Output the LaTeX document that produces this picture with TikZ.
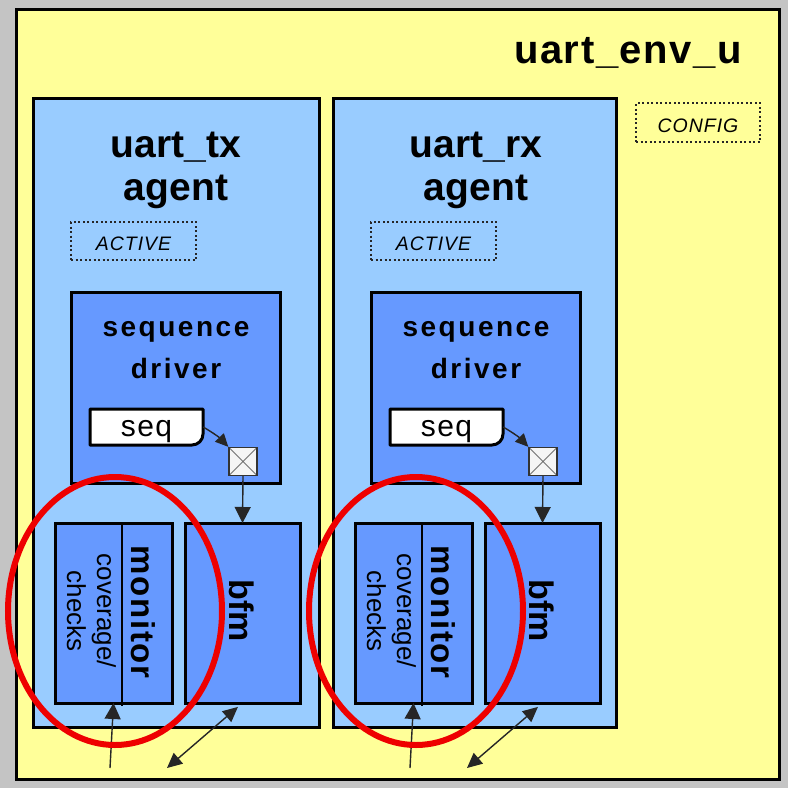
\documentclass[tikz,border=0pt]{standalone}
\usepackage{fontspec}
\setmainfont{Liberation Sans}
\newfontfamily\trackedfont[LetterSpace=9]{Liberation Sans}
\newfontfamily\envtracked[LetterSpace=4]{Liberation Sans}
\newfontfamily\lighttracked[LetterSpace=5]{Liberation Sans}
\usetikzlibrary{arrows.meta,shapes.geometric}

\definecolor{envyellow}{RGB}{255,255,153}
\definecolor{agentblue}{RGB}{153,204,255}
\definecolor{blockblue}{RGB}{102,153,255}
\definecolor{paneground}{RGB}{196,196,196}
\definecolor{ringred}{RGB}{238,0,0}

% font shortcuts
\newcommand\fEnv{\envtracked\fontsize{40}{44}\selectfont\bfseries}
\newcommand\fTitle{\fontsize{39}{44}\selectfont\bfseries}
\newcommand\fBlock{\trackedfont\fontsize{28}{32}\selectfont\bfseries}
\newcommand\fSeq{\lighttracked\fontsize{30}{34}\selectfont}
\newcommand\fMode{\lighttracked\fontsize{19.5}{21}\selectfont\itshape}
\newcommand\fMon{\lighttracked\fontsize{33}{36}\selectfont\bfseries}
\newcommand\fCov{\fontsize{26}{30}\selectfont}
\newcommand\fBfm{\fontsize{34}{38}\selectfont\bfseries}

\begin{document}
\begin{tikzpicture}[x=1pt,y=-1pt,
  frame/.style={draw=black, line width=3pt, inner sep=0pt, outer sep=0pt},
  envbox/.style={frame, fill=envyellow},
  agentbox/.style={frame, fill=agentblue},
  block/.style={frame, fill=blockblue},
  modebox/.style={draw=black!85, line width=2pt, dash pattern=on 2pt off 2.5pt,
                  inner sep=0pt, text height=19pt, text depth=0pt, font=\fMode},
  label/.style={anchor=base, inner sep=0pt},
  vlabel/.style={anchor=base, inner sep=0pt, rotate=-90},
  link/.style={draw=black!85, line width=1.4pt},
  tip/.style={-{Triangle[length=16pt,width=16pt]}},
  bitip/.style={{Triangle[length=15pt,width=14pt]}-{Triangle[length=15pt,width=14pt]}},
  smalltip/.style={-{Triangle[length=13pt,width=12pt]}},
  ring/.style={ellipse, draw=ringred, line width=6pt, inner sep=0pt}
]
\useasboundingbox (0,0) rectangle (788,788);
\fill[paneground] (0,0) rectangle (788,788);

% environment
\node[envbox, minimum width=763pt, minimum height=770pt] (env) at (397.5,394) {};
\node[label, font=\fEnv] (envname) at (628,63) {uart\_env\_u};
\node[modebox, minimum width=124pt, minimum height=39pt] (config) at (698,122.5) {CONFIG};

% the two agents
\foreach \p/\dx/\name/\aw/\ax in {tx/0/uart\_tx/286pt/176, rx/300/uart\_rx/283pt/474.5}{
  \node[agentbox, minimum width=\aw, minimum height=629pt] (\p-agent) at (\ax,412.5) {};
  \node[label, font=\fTitle] (\p-title) at ({\dx+176},157) {\name};
  \node[label, font=\fTitle] (\p-role) at ({\dx+176},200) {agent};
  \node[modebox, minimum width=125pt, minimum height=38pt] (\p-mode) at ({\dx+133.5},241) {ACTIVE};

  % sequence driver
  \node[block, minimum width=209pt, minimum height=191pt] (\p-sqr) at ({\dx+175.5},387.5) {};
  \node[label, font=\fBlock] (\p-sqrA) at ({\dx+176},336) {sequence};
  \node[label, font=\fBlock] (\p-sqrB) at ({\dx+176},378) {driver};

  % sequence page with a curled corner
  \filldraw[fill=white, draw=black, line width=3pt, line join=round]
    ({\dx+90},409) -- ({\dx+203},409) -- ({\dx+203},434)
    to[out=-90,in=0] ({\dx+192},445) -- ({\dx+90},445) -- cycle;
  \node[inner sep=0pt, minimum width=113pt, minimum height=36pt,
        text height=19pt, text depth=0pt, font=\fSeq] (\p-seq) at ({\dx+146.5},427) {seq};

  % port
  \node[draw=black!80, line width=1.3pt, fill=black!4, minimum size=28pt, inner sep=0pt,
        path picture={\draw[black!55, line width=0.9pt]
          (path picture bounding box.north west) -- (path picture bounding box.south east)
          (path picture bounding box.north east) -- (path picture bounding box.south west);}]
        (\p-xbox) at ({\dx+243},461.5) {};

  % monitor and bfm
  \node[block, minimum width=117pt, minimum height=180pt] (\p-mon) at ({\dx+113.5},613) {};
  \draw[line width=1.5pt] ({\dx+122},523) -- ({\dx+122},706);
  \node[vlabel, font=\fMon] (\p-monA) at ({\dx+131},612) {monitor};
  \node[vlabel, font=\fCov] (\p-monB) at ({\dx+97},611) {coverage/};
  \node[vlabel, font=\fCov] (\p-monC) at ({\dx+67},611) {checks};

  \node[block, minimum width=115pt, minimum height=180pt] (\p-bfm) at ({\dx+242.5},613) {};
  \node[vlabel, font=\fBfm] (\p-bfmA) at ({\dx+229},611) {bfm};

  % connectors
  \draw[link, smalltip] (\p-seq.east) to[bend left=8] (\p-xbox.north west);
  \draw[link, tip] (\p-xbox.south) -- (\p-bfm.north);
  \coordinate (\p-monIn) at ({\dx+110},768);
  \draw[link, tip] (\p-monIn) -- (\p-mon.south);
  \coordinate (\p-bus) at ({\dx+167},768);
  \draw[link, bitip, shorten >=6pt] (\p-bus) -- (\p-bfm.south);
}

% highlight rings
\node[ring, minimum width=214pt, minimum height=268pt] (tx-ring) at (115,611) {};
\node[ring, minimum width=214pt, minimum height=268pt] (rx-ring) at (416,611) {};
\end{tikzpicture}
\end{document}
